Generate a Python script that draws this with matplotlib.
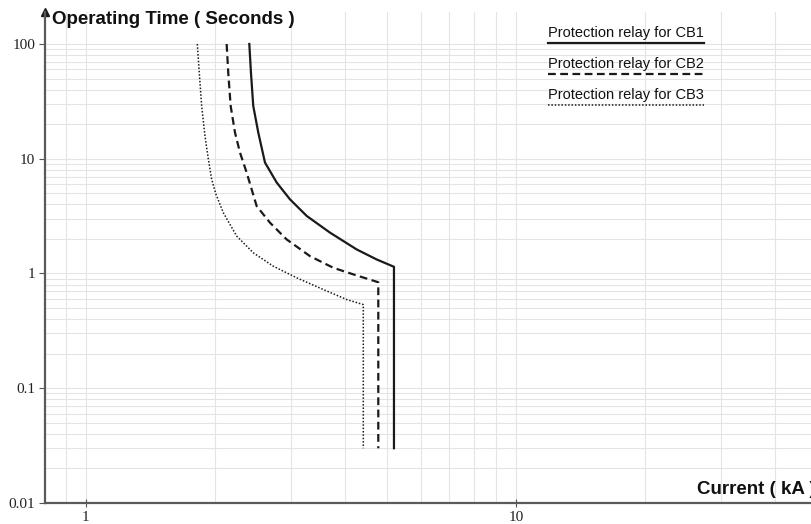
import matplotlib.pyplot as plt
from matplotlib.ticker import LogLocator, FixedLocator, NullFormatter

# relay curves, current in kA, time in seconds
cb1_current = [2.398, 2.419, 2.449, 2.516, 2.608, 2.777, 2.981, 3.262, 3.694, 4.262,
               4.743, 5.203, 5.203]
cb1_time = [100, 56.6, 28.9, 16.9, 9.26, 6.20, 4.43, 3.17, 2.27, 1.62, 1.325, 1.144, 0.03]

cb2_current = [2.124, 2.142, 2.170, 2.221, 2.281, 2.364, 2.494, 2.679, 2.929, 3.319,
               3.760, 4.262, 4.784, 4.784]
cb2_time = [100, 56.6, 28.9, 16.9, 11.33, 7.58, 3.87, 2.77, 1.98, 1.416, 1.121, 0.961,
            0.839, 0.03]

cb3_current = [1.815, 1.834, 1.858, 1.891, 1.925, 1.960, 2.006, 2.086, 2.241, 2.449,
               2.726, 3.091, 3.564, 4.040, 4.415, 4.415]
cb3_time = [100, 56.6, 28.9, 15.8, 10, 6.62, 4.90, 3.39, 2.12, 1.516, 1.158, 0.917,
            0.725, 0.593, 0.536, 0.03]

labels = ['Protection relay for CB1', 'Protection relay for CB2', 'Protection relay for CB3']
x_ticks = [1, 10]
y_ticks = [0.01, 0.1, 1, 10, 100]

fig = plt.figure(figsize=(8.12, 5.24), dpi=100)
ax = fig.add_axes([45 / 812, 21 / 524, 1 - 45 / 812, 491 / 524])
ax.set_xscale('log')
ax.set_yscale('log')
ax.set_xlim(0.803, 48.8)
ax.set_ylim(0.01, 190)

styles = [dict(ls='-', lw=1.6), dict(ls=(0, (3.5, 2)), lw=1.6), dict(ls=(0, (1, 1.2)), lw=1.1)]
for xs, ys, st in zip([cb1_current, cb2_current, cb3_current],
                      [cb1_time, cb2_time, cb3_time], styles):
    ax.plot(xs, ys, color='#1a1a1a', solid_joinstyle='round', **st)

ax.xaxis.set_major_locator(FixedLocator(x_ticks))
ax.yaxis.set_major_locator(FixedLocator(y_ticks))
ax.xaxis.set_minor_locator(LogLocator(base=10, subs=range(2, 10)))
ax.yaxis.set_minor_locator(LogLocator(base=10, subs=range(2, 10)))
ax.xaxis.set_minor_formatter(NullFormatter())
ax.yaxis.set_minor_formatter(NullFormatter())
ax.set_xticklabels(['1', '10'])
ax.set_yticklabels(['0.01', '0.1', '1', '10', '100'])
for lab in ax.get_xticklabels() + ax.get_yticklabels():
    lab.set_family('Liberation Serif')
    lab.set_fontsize(11)
    lab.set_color('#222222')
ax.tick_params(which='major', length=4, width=0.8, color='#555555', pad=3)
ax.tick_params(axis='x', which='major', direction='inout', length=6)
ax.tick_params(which='minor', length=0)
ax.grid(True, which='both', color='#e4e4e4', lw=0.8)
ax.set_axisbelow(True)

for s in ['top', 'right']:
    ax.spines[s].set_visible(False)
for s in ['left', 'bottom']:
    ax.spines[s].set_color('#5a5a5a')
    ax.spines[s].set_linewidth(1.6)

# arrow on y axis
ax.plot([0], [1.0], marker='^', color='#1a1a1a', ms=6, transform=ax.transAxes, clip_on=False)

fig.text(52 / 812, 1 - 20 / 524, 'Operating Time ( Seconds )',
         fontsize=13.5, fontweight='bold', family='Liberation Sans', va='center',
         color='#111111')
fig.text(697 / 812, 1 - 489 / 524, 'Current ( kA )', fontsize=13.5,
         fontweight='bold', family='Liberation Sans', va='center', color='#111111')

# legend drawn as underlined labels
for i, (lab, st) in enumerate(zip(labels, styles)):
    ty = 1 - (33 + 31 * i) / 524
    ly = 1 - (43 + 31 * i) / 524
    fig.text(548 / 812, ty, lab, fontsize=10.5, family='Liberation Sans',
             va='center', color='#111111')
    fig.add_artist(plt.Line2D([548 / 812, 704 / 812], [ly, ly], color='#1a1a1a',
                              transform=fig.transFigure, **st))

fig.savefig('out.png', dpi=100)
